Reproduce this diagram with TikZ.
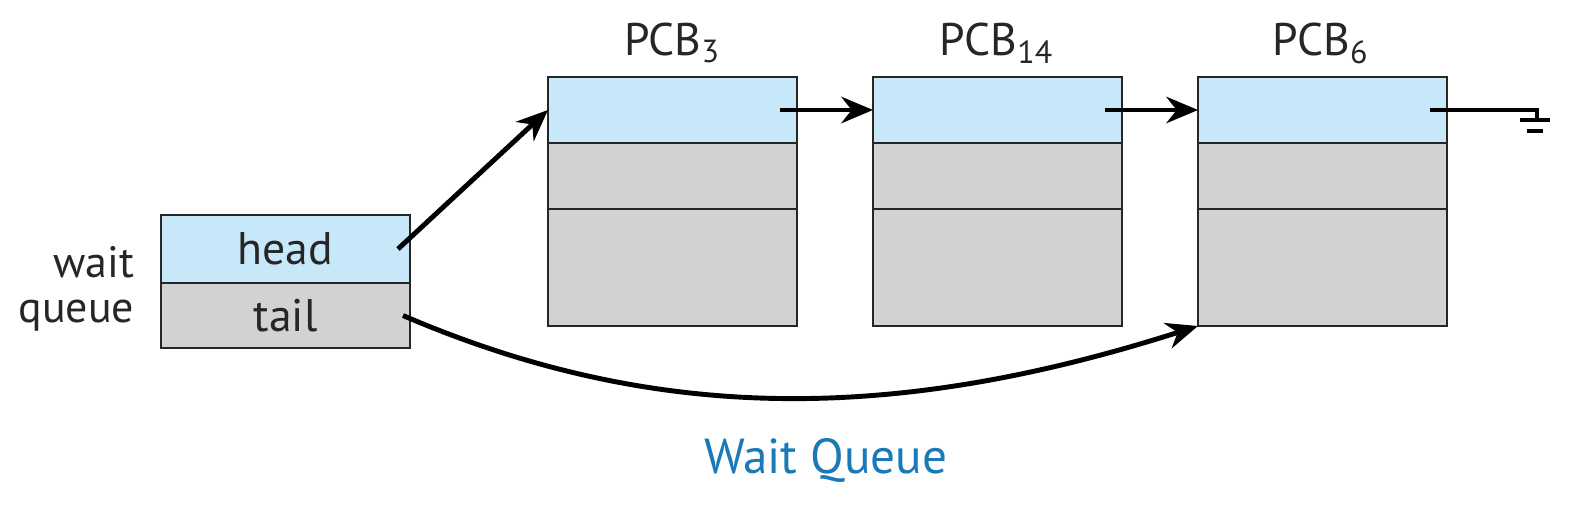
\documentclass[tikz,border=0pt]{standalone}
\usepackage{fontspec}
\setmainfont{PT Sans}
\usetikzlibrary{positioning, arrows.meta}
\definecolor{cellblue}{HTML}{C6E8F8}
\definecolor{cellgrey}{HTML}{D1D2D4}
\definecolor{capblue}{HTML}{1A7AB8}
\begin{document}
\begin{tikzpicture}[cell/.style={draw=black!85,line width=0.8pt,minimum width=2.49cm,inner sep=0pt,outer sep=0pt},
		bcell/.style={cell,fill=cellblue}, gcell/.style={cell,fill=cellgrey},
		link/.style={line width=1.4pt,-{Stealth[length=9pt,width=7.5pt]}},
		lbl/.style={font=\fontsize{13}{15}\selectfont,text=black!85}]
	\useasboundingbox (0,0) rectangle (15.73,5.16);
	% wait queue
	\node[bcell,minimum height=0.68cm,lbl] (head) at (2.855, 2.67) {head};
	\node[gcell,minimum height=0.65cm,lbl,below=0pt of head] (tail) {tail};
	\node[lbl,font=\fontsize{12.5}{15}\selectfont,inner sep=0pt,anchor=base east] (wait) at (1.35, 2.39) {wait};
	\node[lbl,font=\fontsize{12.5}{15}\selectfont,inner sep=0pt,anchor=base east] (queue) at (1.35, 1.94) {queue};
	% PCBs
	\node[bcell,minimum height=0.66cm] (p3a) at (6.725, 4.06) {};
	\node[gcell,minimum height=0.66cm,below=0pt of p3a] (p3b) {};
	\node[gcell,minimum height=1.17cm,below=0pt of p3b] (p3c) {};
	\node[bcell,minimum height=0.66cm,right=0.76cm of p3a] (p14a) {};
	\node[gcell,minimum height=0.66cm,below=0pt of p14a] (p14b) {};
	\node[gcell,minimum height=1.17cm,below=0pt of p14b] (p14c) {};
	\node[bcell,minimum height=0.66cm,right=0.76cm of p14a] (p6a) {};
	\node[gcell,minimum height=0.66cm,below=0pt of p6a] (p6b) {};
	\node[gcell,minimum height=1.17cm,below=0pt of p6b] (p6c) {};
	\node[lbl,anchor=base] (t3) at (6.725, 4.61) {PCB\textsubscript{3}};
	\node[lbl,anchor=base] (t14) at (9.97, 4.61) {PCB\textsubscript{14}};
	\node[lbl,anchor=base] (t6) at (13.21, 4.61) {PCB\textsubscript{6}};
	% links
	\draw[link] ([xshift=-0.12cm]head.east) to (p3a.west);
	\draw[link] ([xshift=-0.17cm]p3a.east) to (p14a.west);
	\draw[link] ([xshift=-0.17cm]p14a.east) to (p6a.west);
	\draw[link] ([xshift=-0.07cm]tail.east) .. controls (6.6,0.9) and (9.0,0.95) .. (p6c.south west);
	% ground
	\coordinate (gnd) at (15.37, 3.96);
	\draw[line width=1.4pt] ([xshift=-0.17cm]p6a.east) -| (gnd);
	\draw[line width=1.4pt] (15.20,3.96) -- (15.50,3.96);
	\draw[line width=1.4pt] (15.27,3.85) -- (15.43,3.85);
	% caption
	\node[font=\fontsize{14}{16}\selectfont,text=capblue] (cap) at (8.26, 0.56) {Wait Queue};
\end{tikzpicture}
\end{document}
